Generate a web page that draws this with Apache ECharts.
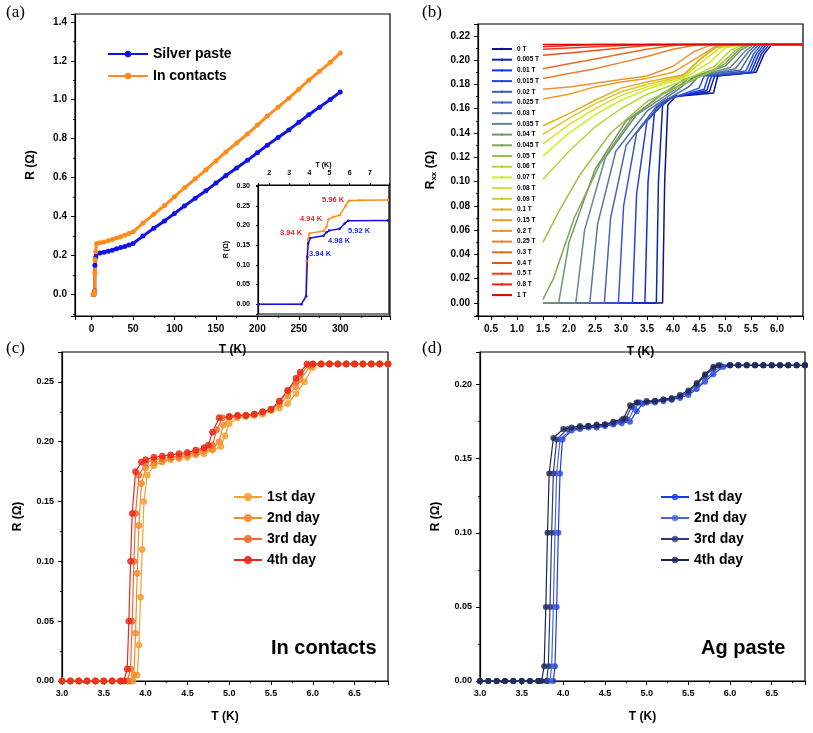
<!DOCTYPE html>
<html><head><meta charset="utf-8">
<script src="https://cdn.jsdelivr.net/npm/echarts@6/dist/echarts.min.js"></script>
<style>html,body{margin:0;padding:0;background:#fff}#c{width:813px;height:733px}</style>
</head><body><div id="c"></div>
<script>
// ---- Panel (a) ----
const aSilver=[[2,0],[3,0.001],[3.8,0.02],[4,0.15],[5,0.19],[6,0.21],[10,0.213],[15,0.217],[20,0.222],[25,0.228],[30,0.235],[35,0.241],[40,0.247],[45,0.254],[50,0.262],[62,0.3],[75,0.34],[88,0.378],[100,0.416],[112,0.455],[125,0.494],[138,0.533],[150,0.572],[162,0.611],[175,0.65],[188,0.689],[200,0.728],[212,0.767],[225,0.806],[238,0.845],[250,0.884],[262,0.923],[275,0.962],[288,1.001],[300,1.04]];
const aIn=[[2,0],[3,0.001],[3.8,0.02],[3.95,0.11],[4.2,0.18],[5,0.22],[6,0.262],[10,0.266],[15,0.27],[20,0.276],[25,0.283],[30,0.29],[35,0.297],[40,0.305],[45,0.313],[50,0.322],[62,0.367],[75,0.412],[88,0.457],[100,0.502],[112,0.548],[125,0.594],[138,0.64],[150,0.686],[162,0.732],[175,0.778],[188,0.824],[200,0.87],[212,0.916],[225,0.962],[238,1.008],[250,1.054],[262,1.1],[275,1.146],[288,1.192],[300,1.24]];
// ---- Panel (b) ----
const bFields=['0 T','0.005 T','0.01 T','0.015 T','0.02 T','0.025 T','0.03 T','0.035 T','0.04 T','0.045 T','0.05 T','0.06 T','0.07 T','0.08 T','0.09 T','0.1 T','0.15 T','0.2 T','0.25 T','0.3 T','0.4 T','0.5 T','0.8 T','1 T'];
const bColors=['#12128a','#0a28b0','#1030e8','#2444e0','#3858c8','#4868b0','#587898','#68888a','#709670','#80a850','#98c440','#b0dc30','#c8f020','#d8e02c','#dcc830','#e0b020','#e8a028','#ea9430','#ea8030','#ea6a28','#ec5020','#f23a18','#f22010','#e00000'];
const bCurves=[
[[1.5,0],[3.8,0],[3.84,0.1],[3.9,0.163],[4.05,0.17],[4.78,0.173],[4.86,0.187],[5.6,0.19],[5.75,0.205],[5.9,0.213],[6.5,0.213]],
[[1.5,0],[3.68,0],[3.72,0.1],[3.8,0.163],[4.0,0.17],[4.7,0.174],[4.8,0.187],[5.55,0.19],[5.7,0.205],[5.85,0.213],[6.5,0.213]],
[[1.5,0],[3.46,0],[3.52,0.1],[3.65,0.16],[3.95,0.169],[4.65,0.175],[4.74,0.187],[5.5,0.19],[5.65,0.205],[5.8,0.213],[6.5,0.213]],
[[1.5,0],[3.22,0],[3.3,0.09],[3.5,0.15],[3.9,0.168],[4.6,0.176],[4.68,0.187],[5.45,0.19],[5.6,0.205],[5.75,0.213],[6.5,0.213]],
[[1.5,0],[2.95,0],[3.05,0.08],[3.3,0.14],[3.8,0.166],[4.5,0.177],[4.6,0.187],[5.4,0.191],[5.55,0.205],[5.7,0.213],[6.5,0.213]],
[[1.5,0],[2.68,0],[2.8,0.07],[3.1,0.13],[3.7,0.163],[4.3,0.178],[4.5,0.187],[5.3,0.192],[5.5,0.206],[5.65,0.213],[6.5,0.213]],
[[1.5,0],[2.4,0],[2.55,0.065],[2.9,0.125],[3.5,0.158],[4.1,0.176],[4.4,0.186],[5.2,0.193],[5.45,0.207],[5.6,0.213],[6.5,0.213]],
[[1.5,0],[2.13,0],[2.3,0.06],[2.7,0.12],[3.3,0.155],[4.0,0.175],[4.3,0.185],[5.1,0.194],[5.4,0.208],[5.55,0.213],[6.5,0.213]],
[[1.5,0],[1.8,0],[2.0,0.05],[2.5,0.11],[3.1,0.15],[3.8,0.172],[4.2,0.184],[5.0,0.195],[5.3,0.208],[5.5,0.213],[6.5,0.213]],
[[1.5,0.003],[1.7,0.02],[2.1,0.07],[2.6,0.115],[3.2,0.152],[3.8,0.173],[4.5,0.186],[5.0,0.197],[5.3,0.21],[5.45,0.213],[6.5,0.213]],
[[1.5,0.05],[1.8,0.075],[2.2,0.105],[2.8,0.14],[3.5,0.166],[4.2,0.18],[4.8,0.192],[5.2,0.208],[5.4,0.213],[6.5,0.213]],
[[1.5,0.102],[2.0,0.125],[2.5,0.145],[3.0,0.16],[3.5,0.172],[4.2,0.183],[4.8,0.195],[5.1,0.208],[5.35,0.213],[6.5,0.213]],
[[1.5,0.121],[2.0,0.14],[2.5,0.155],[3.0,0.167],[3.5,0.176],[4.2,0.185],[4.7,0.198],[5.0,0.21],[5.3,0.213],[6.5,0.213]],
[[1.5,0.131],[2.0,0.147],[2.5,0.16],[3.0,0.171],[3.5,0.178],[4.2,0.186],[4.6,0.2],[4.9,0.21],[5.2,0.213],[6.5,0.213]],
[[1.5,0.139],[2.0,0.152],[2.5,0.164],[3.0,0.174],[3.5,0.18],[4.2,0.187],[4.5,0.2],[4.8,0.21],[5.1,0.213],[6.5,0.213]],
[[1.5,0.146],[2.0,0.156],[2.5,0.167],[3.0,0.177],[3.5,0.182],[4.2,0.188],[4.5,0.2],[4.8,0.21],[5.0,0.213],[6.5,0.213]],
[[1.5,0.168],[2.0,0.172],[2.5,0.178],[3.0,0.182],[3.5,0.185],[4.0,0.19],[4.5,0.203],[4.8,0.211],[5.0,0.213],[6.5,0.213]],
[[1.5,0.176],[2.0,0.178],[2.5,0.181],[3.0,0.184],[3.5,0.187],[4.0,0.195],[4.4,0.207],[4.7,0.212],[4.9,0.213],[6.5,0.213]],
[[1.5,0.185],[2.0,0.189],[2.5,0.193],[3.0,0.198],[3.5,0.203],[4.0,0.209],[4.5,0.213],[6.5,0.213]],
[[1.5,0.193],[2.0,0.197],[2.5,0.201],[3.0,0.205],[3.5,0.209],[4.0,0.212],[4.3,0.213],[6.5,0.213]],
[[1.5,0.204],[2.0,0.206],[2.5,0.208],[3.0,0.21],[3.5,0.212],[4.0,0.213],[6.5,0.213]],
[[1.5,0.209],[2.0,0.21],[2.5,0.211],[3.0,0.212],[3.5,0.213],[6.5,0.213]],
[[1.5,0.211],[2.0,0.212],[2.5,0.213],[6.5,0.213]],
[[1.5,0.213],[6.5,0.213]]
];
// ---- Panel (c) In contacts ----
const cDays=['1st day','2nd day','3rd day','4th day'];
const cColors=['#f5a030','#f08c30','#ee6a30','#e82818'];
const cData=[
[[3.0,0],[3.1,0],[3.2,0],[3.3,0],[3.4,0],[3.5,0],[3.6,0],[3.7,0],[3.8,0],[3.85,0],[3.9,0.005],[3.92,0.03],[3.94,0.07],[3.96,0.11],[3.98,0.15],[4.02,0.172],[4.1,0.18],[4.2,0.183],[4.3,0.185],[4.4,0.186],[4.5,0.187],[4.6,0.189],[4.7,0.19],[4.8,0.193],[4.9,0.196],[4.95,0.205],[5.0,0.215],[5.1,0.22],[5.2,0.221],[5.3,0.222],[5.4,0.223],[5.5,0.226],[5.6,0.228],[5.7,0.232],[5.8,0.24],[5.9,0.25],[6.0,0.262],[6.1,0.265],[6.2,0.265],[6.3,0.265],[6.4,0.265],[6.5,0.265],[6.6,0.265],[6.7,0.265],[6.8,0.265],[6.9,0.265]],
[[3.0,0],[3.1,0],[3.2,0],[3.3,0],[3.4,0],[3.5,0],[3.6,0],[3.7,0],[3.82,0],[3.86,0.005],[3.88,0.04],[3.9,0.09],[3.92,0.13],[3.95,0.165],[4.0,0.178],[4.1,0.182],[4.2,0.184],[4.3,0.186],[4.4,0.187],[4.5,0.188],[4.6,0.19],[4.7,0.192],[4.8,0.194],[4.88,0.2],[4.93,0.214],[5.0,0.22],[5.1,0.221],[5.2,0.222],[5.3,0.223],[5.4,0.224],[5.5,0.227],[5.6,0.231],[5.7,0.238],[5.8,0.246],[5.85,0.252],[5.97,0.263],[6.1,0.265],[6.2,0.265],[6.3,0.265],[6.4,0.265],[6.5,0.265],[6.6,0.265],[6.7,0.265],[6.8,0.265],[6.9,0.265]],
[[3.0,0],[3.1,0],[3.2,0],[3.3,0],[3.4,0],[3.5,0],[3.6,0],[3.7,0],[3.78,0],[3.82,0.01],[3.84,0.05],[3.86,0.1],[3.88,0.14],[3.92,0.172],[4.0,0.182],[4.1,0.185],[4.2,0.186],[4.3,0.187],[4.4,0.188],[4.5,0.19],[4.6,0.191],[4.7,0.194],[4.8,0.197],[4.85,0.21],[4.92,0.22],[5.0,0.221],[5.1,0.222],[5.2,0.222],[5.3,0.223],[5.4,0.225],[5.5,0.227],[5.6,0.233],[5.7,0.242],[5.8,0.25],[5.85,0.256],[5.95,0.264],[6.0,0.265],[6.1,0.265],[6.2,0.265],[6.3,0.265],[6.4,0.265],[6.5,0.265],[6.6,0.265],[6.7,0.265],[6.8,0.265],[6.9,0.265]],
[[3.0,0],[3.1,0],[3.2,0],[3.3,0],[3.4,0],[3.5,0],[3.6,0],[3.7,0],[3.74,0],[3.78,0.01],[3.8,0.05],[3.82,0.1],[3.84,0.14],[3.88,0.175],[3.95,0.183],[4.0,0.185],[4.1,0.187],[4.2,0.188],[4.3,0.189],[4.4,0.19],[4.5,0.191],[4.6,0.193],[4.7,0.195],[4.75,0.197],[4.8,0.208],[4.88,0.22],[5.0,0.221],[5.1,0.222],[5.2,0.222],[5.3,0.223],[5.4,0.225],[5.5,0.227],[5.6,0.234],[5.7,0.243],[5.8,0.253],[5.85,0.258],[5.93,0.265],[6.0,0.265],[6.1,0.265],[6.2,0.265],[6.3,0.265],[6.4,0.265],[6.5,0.265],[6.6,0.265],[6.7,0.265],[6.8,0.265],[6.9,0.265]]
];
// ---- Panel (d) Ag paste ----
const dColors=['#1a3cf0','#4a64e0','#2e3a7a','#1c2450'];
const dData=[
[[3.0,0],[3.1,0],[3.2,0],[3.3,0],[3.4,0],[3.5,0],[3.6,0],[3.7,0],[3.8,0],[3.88,0],[3.9,0.01],[3.92,0.05],[3.94,0.1],[3.96,0.14],[3.99,0.163],[4.1,0.169],[4.2,0.17],[4.3,0.171],[4.4,0.171],[4.5,0.172],[4.6,0.173],[4.7,0.174],[4.8,0.175],[4.88,0.182],[4.95,0.187],[5.1,0.188],[5.2,0.189],[5.3,0.19],[5.4,0.191],[5.5,0.193],[5.6,0.197],[5.7,0.202],[5.8,0.207],[5.92,0.212],[6.0,0.213],[6.1,0.213],[6.2,0.213],[6.3,0.213],[6.4,0.213],[6.5,0.213],[6.6,0.213],[6.7,0.213],[6.8,0.213],[6.9,0.213]],
[[3.0,0],[3.1,0],[3.2,0],[3.3,0],[3.4,0],[3.5,0],[3.6,0],[3.7,0],[3.8,0],[3.84,0],[3.86,0.01],[3.88,0.05],[3.9,0.1],[3.92,0.14],[3.96,0.163],[4.1,0.17],[4.2,0.171],[4.3,0.172],[4.4,0.172],[4.5,0.173],[4.6,0.174],[4.7,0.175],[4.78,0.176],[4.85,0.184],[4.92,0.188],[5.1,0.189],[5.2,0.189],[5.3,0.19],[5.4,0.192],[5.5,0.194],[5.6,0.198],[5.7,0.203],[5.8,0.209],[5.9,0.212],[6.0,0.213],[6.1,0.213],[6.2,0.213],[6.3,0.213],[6.4,0.213],[6.5,0.213],[6.6,0.213],[6.7,0.213],[6.8,0.213],[6.9,0.213]],
[[3.0,0],[3.1,0],[3.2,0],[3.3,0],[3.4,0],[3.5,0],[3.6,0],[3.7,0],[3.8,0],[3.82,0.01],[3.84,0.05],[3.86,0.1],[3.88,0.14],[3.92,0.163],[4.05,0.17],[4.2,0.171],[4.3,0.172],[4.4,0.172],[4.5,0.173],[4.6,0.174],[4.7,0.176],[4.75,0.177],[4.82,0.185],[4.9,0.188],[5.0,0.188],[5.1,0.189],[5.2,0.19],[5.3,0.19],[5.4,0.192],[5.5,0.195],[5.6,0.2],[5.7,0.206],[5.8,0.211],[5.88,0.213],[6.0,0.213],[6.1,0.213],[6.2,0.213],[6.3,0.213],[6.4,0.213],[6.5,0.213],[6.6,0.213],[6.7,0.213],[6.8,0.213],[6.9,0.213]],
[[3.0,0],[3.1,0],[3.2,0],[3.3,0],[3.4,0],[3.5,0],[3.6,0],[3.7,0],[3.74,0],[3.77,0.01],[3.79,0.05],[3.81,0.1],[3.83,0.14],[3.88,0.164],[4.0,0.17],[4.1,0.171],[4.2,0.172],[4.3,0.172],[4.4,0.173],[4.5,0.173],[4.6,0.175],[4.72,0.177],[4.8,0.186],[4.88,0.188],[5.0,0.189],[5.1,0.189],[5.2,0.19],[5.3,0.191],[5.4,0.193],[5.5,0.196],[5.6,0.201],[5.7,0.207],[5.8,0.212],[5.86,0.213],[6.0,0.213],[6.1,0.213],[6.2,0.213],[6.3,0.213],[6.4,0.213],[6.5,0.213],[6.6,0.213],[6.7,0.213],[6.8,0.213],[6.9,0.213]]
];
// ---- inset ----
const insetIn=[[1.5,0],[3.6,0],[3.82,0.02],[3.86,0.11],[3.94,0.165],[4.0,0.18],[4.7,0.186],[4.85,0.196],[4.94,0.215],[5.2,0.222],[5.5,0.226],[5.8,0.25],[5.96,0.263],[6.5,0.264],[7.9,0.265]];
const insetAg=[[1.5,0],[3.6,0],[3.84,0.02],[3.9,0.12],[3.94,0.155],[4.05,0.168],[4.7,0.174],[4.85,0.183],[4.98,0.187],[5.5,0.192],[5.75,0.205],[5.92,0.212],[7.9,0.213]];

const F='Liberation Sans';
const lab=(sz)=>({fontFamily:F,fontWeight:'bold',fontSize:sz,color:'#000'});
function vAxis(gi,min,max,iv,fmt,extra){return Object.assign({type:'value',gridIndex:gi,min,max,minInterval:iv,maxInterval:iv,
 axisLine:{show:true,onZero:false,lineStyle:{color:'#000',width:1.2}},axisTick:{show:true,inside:false,length:4,lineStyle:{color:'#000'}},
 minorTick:{show:true,splitNumber:2,length:2,lineStyle:{color:'#000'}},splitLine:{show:false},
 axisLabel:Object.assign(lab(10),{formatter:fmt}),nameTextStyle:lab(12)},extra||{});}
const inRange=(lo,hi,d)=>v=>(v<lo-1e-9||v>hi+1e-9)?'':v.toFixed(d);

const grids=[
 {left:75,top:14,width:315,height:302},
 {left:258,top:185,width:131,height:129,backgroundColor:'#fff'},
 {left:478,top:24,width:325,height:292},
 {left:62,top:352,width:326,height:329},
 {left:480,top:352,width:325,height:329}
].map(g=>Object.assign({show:true,borderColor:'#000',borderWidth:1.2,containLabel:false},g));

const xAxis=[
 vAxis(0,-20,360,50,inRange(0,300,0),{name:'T (K)',nameLocation:'middle',nameGap:28}),
 vAxis(1,1.45,7.95,1,inRange(2,7,0),{position:'top',name:'T (K)',nameLocation:'middle',nameGap:16,nameTextStyle:lab(7),axisLabel:Object.assign(lab(7),{formatter:inRange(2,7,0)}),minorTick:{show:false},axisTick:{length:2}}),
 vAxis(2,0.25,6.5,0.5,inRange(0.5,6.0,1),{name:'T (K)',nameLocation:'middle',nameGap:30}),
 vAxis(3,3.0,6.9,0.5,inRange(3,6.5,1),{name:'T (K)',nameLocation:'middle',nameGap:30,axisLabel:Object.assign(lab(9),{formatter:inRange(3,6.5,1)})}),
 vAxis(4,3.0,6.9,0.5,inRange(3,6.5,1),{name:'T (K)',nameLocation:'middle',nameGap:30,axisLabel:Object.assign(lab(9),{formatter:inRange(3,6.5,1)})})
];
const yAxis=[
 vAxis(0,-0.11,1.44,0.2,inRange(0,1.4,1),{name:'R (Ω)',nameLocation:'middle',nameGap:38}),
 vAxis(1,-0.025,0.303,0.05,inRange(0,0.3,2),{name:'R (Ω)',nameLocation:'middle',nameGap:28,nameTextStyle:lab(7),axisLabel:Object.assign(lab(7),{formatter:inRange(0,0.3,2)}),minorTick:{show:false},axisTick:{length:2}}),
 vAxis(2,-0.0107,0.2298,0.02,inRange(0,0.22,2),{name:'{a|R}{b|xx}{a| (Ω)}',nameLocation:'middle',nameGap:40,nameTextStyle:{rich:{a:lab(12),b:Object.assign(lab(8),{verticalAlign:'bottom',padding:[6,0,0,0]})}}}),
 vAxis(3,0,0.275,0.05,inRange(0,0.25,2),{name:'R (Ω)',nameLocation:'middle',nameGap:38,axisLabel:Object.assign(lab(9),{formatter:inRange(0,0.25,2)})}),
 vAxis(4,0,0.222,0.05,inRange(0,0.2,2),{name:'R (Ω)',nameLocation:'middle',nameGap:38,axisLabel:Object.assign(lab(9),{formatter:inRange(0,0.2,2)})})
];

const series=[];
series.push({name:'Silver paste',type:'line',xAxisIndex:0,yAxisIndex:0,data:aSilver,color:'#1010e8',lineStyle:{width:3},symbol:'circle',symbolSize:5});
series.push({name:'In contacts',type:'line',xAxisIndex:0,yAxisIndex:0,data:aIn,color:'#ff8c1a',lineStyle:{width:3},symbol:'circle',symbolSize:5});
series.push({type:'line',xAxisIndex:1,yAxisIndex:1,data:insetIn,color:'#ff8c1a',lineStyle:{width:1.5},symbol:'circle',symbolSize:2.5});
series.push({type:'line',xAxisIndex:1,yAxisIndex:1,data:insetAg,color:'#1010e8',lineStyle:{width:1.5},symbol:'circle',symbolSize:2.5});
bCurves.forEach((d,i)=>series.push({name:bFields[i],type:'line',xAxisIndex:2,yAxisIndex:2,data:d,color:bColors[i],lineStyle:{width:1.5},symbol:'none',z:2+i}));
cData.forEach((d,i)=>series.push({name:cDays[i],type:'line',xAxisIndex:3,yAxisIndex:3,data:d,color:cColors[i],lineStyle:{width:1.2},symbol:'circle',symbolSize:6,itemStyle:{color:cColors[i],opacity:0.8,borderColor:cColors[i],borderWidth:1}}));
dData.forEach((d,i)=>series.push({name:cDays[i]+' ',type:'line',xAxisIndex:4,yAxisIndex:4,data:d,color:dColors[i],lineStyle:{width:1.2},symbol:'circle',symbolSize:6,itemStyle:{color:dColors[i],opacity:0.8}}));

const legends=[
 {data:['Silver paste','In contacts'],orient:'vertical',left:102,top:42,itemGap:8,itemWidth:40,itemHeight:8,textStyle:lab(14)},
 {data:bFields,orient:'vertical',left:486,top:40,itemGap:2.7,itemWidth:20,itemHeight:3,textStyle:Object.assign(lab(6.5),{lineHeight:8})},
 {data:cDays,orient:'vertical',left:228,top:485,itemGap:7,itemWidth:28,itemHeight:8,textStyle:lab(14)},
 {data:cDays.map(s=>s+' '),orient:'vertical',left:655,top:485,itemGap:7,itemWidth:28,itemHeight:8,textStyle:lab(14)}
];
const serif={fontFamily:'Liberation Serif',fontSize:17,fill:'#000'};
const graphic=[
 {type:'text',left:6,top:4,style:Object.assign({text:'(a)'},serif)},
 {type:'text',left:422,top:4,style:Object.assign({text:'(b)'},serif)},
 {type:'text',left:6,top:340,style:Object.assign({text:'(c)'},serif)},
 {type:'text',left:422,top:340,style:Object.assign({text:'(d)'},serif)},
 {type:'text',left:271,top:638,style:{text:'In contacts',fontFamily:F,fontWeight:'bold',fontSize:20,fill:'#000'}},
 {type:'text',left:701,top:638,style:{text:'Ag paste',fontFamily:F,fontWeight:'bold',fontSize:20,fill:'#000'}},
 {type:'text',left:322,top:196,style:{text:'5.96 K',fontFamily:F,fontWeight:'bold',fontSize:7.5,fill:'#e8202a'}},
 {type:'text',left:300,top:215,style:{text:'4.94 K',fontFamily:F,fontWeight:'bold',fontSize:7.5,fill:'#e8202a'}},
 {type:'text',left:280,top:229,style:{text:'3.94 K',fontFamily:F,fontWeight:'bold',fontSize:7.5,fill:'#e8202a'}},
 {type:'text',left:348,top:227,style:{text:'5.92 K',fontFamily:F,fontWeight:'bold',fontSize:7.5,fill:'#1a2af0'}},
 {type:'text',left:328,top:237,style:{text:'4.98 K',fontFamily:F,fontWeight:'bold',fontSize:7.5,fill:'#1a2af0'}},
 {type:'text',left:309,top:250,style:{text:'3.94 K',fontFamily:F,fontWeight:'bold',fontSize:7.5,fill:'#1a2af0'}}
];
const chart=echarts.init(document.getElementById('c'));
chart.setOption({animation:false,backgroundColor:'#fff',grid:grids,xAxis,yAxis,series,legend:legends,graphic});
</script></body></html>
